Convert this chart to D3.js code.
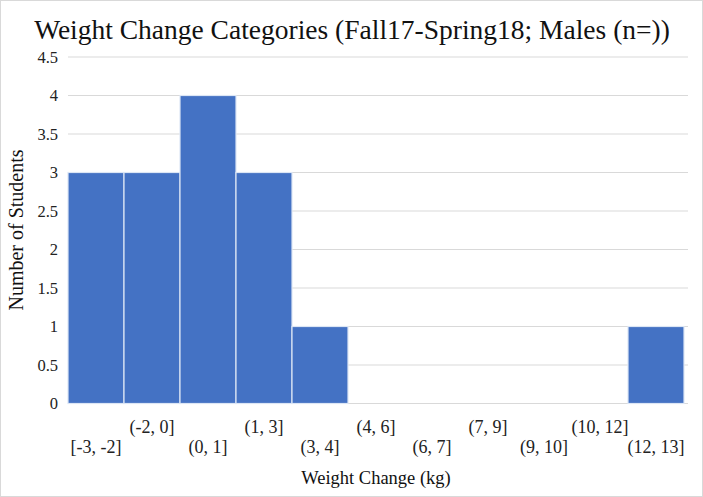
<!DOCTYPE html>
<html>
<head>
<meta charset="utf-8">
<script src="https://cdn.jsdelivr.net/npm/d3@7"></script>
<style>
  body { margin: 0; background: #fff; }
</style>
</head>
<body>
<svg id="chart" width="703" height="497"></svg>
<script>
// bins and counts
const categories = ["[-3, -2]", "(-2, 0]", "(0, 1]", "(1, 3]", "(3, 4]", "(4, 6]",
                    "(6, 7]", "(7, 9]", "(9, 10]", "(10, 12]", "(12, 13]"];
const counts = [3, 3, 4, 3, 1, 0, 0, 0, 0, 0, 1];
const yTicks = [0, 0.5, 1, 1.5, 2, 2.5, 3, 3.5, 4, 4.5];

const serif = "'Liberation Serif', 'DejaVu Serif', serif";

let svg = d3.select("#chart")
  .attr("font-family", serif);

// chart area border
svg.append("rect")
  .attr("x", 0.5).attr("y", 0.5)
  .attr("width", 702).attr("height", 496)
  .attr("fill", "none")
  .attr("stroke", "#d9d9d9");

const plotLeft = 68, plotRight = 688, plotTop = 57, plotBottom = 403.5;

let x = d3.scaleBand().domain(categories).range([plotLeft, 684]).padding(0);
let y = d3.scaleLinear().domain([0, 4.5]).range([plotBottom, plotTop]);

// gridlines
svg.append("g")
  .selectAll("line")
  .data(yTicks)
  .join("line")
  .attr("x1", plotLeft)
  .attr("x2", plotRight)
  .attr("y1", d => y(d))
  .attr("y2", d => y(d))
  .attr("stroke", "#d9d9d9")
  .attr("stroke-width", 1);

// y tick labels
svg.append("g")
  .selectAll("text")
  .data(yTicks)
  .join("text")
  .attr("x", 58)
  .attr("y", d => y(d) + 5.5)
  .attr("text-anchor", "end")
  .attr("font-family", serif)
  .attr("font-size", 16.5)
  .attr("fill", "#222")
  .text(d => d);

// bars
svg.append("g")
  .selectAll("rect")
  .data(counts)
  .join("rect")
  .attr("x", (d, i) => x(categories[i]))
  .attr("y", d => y(d))
  .attr("width", x.bandwidth())
  .attr("height", d => plotBottom - y(d))
  .attr("fill", "#4472c4")
  .attr("stroke", d => d > 0 ? "#dce6f5" : "none")
  .attr("stroke-width", 1.2);

// x labels, staggered in two rows
svg.append("g")
  .selectAll("text")
  .data(categories)
  .join("text")
  .attr("x", d => x(d) + x.bandwidth() / 2)
  .attr("y", (d, i) => i % 2 === 0 ? 453 : 433)
  .attr("text-anchor", "middle")
  .attr("font-family", serif)
  .attr("font-size", 18)
  .attr("fill", "#222")
  .text(d => d);

// title
svg.append("text")
  .attr("x", 352)
  .attr("y", 39)
  .attr("text-anchor", "middle")
  .attr("font-family", serif)
  .attr("font-size", 27.5)
  .attr("fill", "#111")
  .text("Weight Change Categories (Fall17-Spring18; Males (n=))");

// axis titles
svg.append("text")
  .attr("x", 376)
  .attr("y", 484)
  .attr("text-anchor", "middle")
  .attr("font-family", serif)
  .attr("font-size", 18.5)
  .attr("fill", "#111")
  .text("Weight Change (kg)");

svg.append("text")
  .attr("transform", "translate(23,230) rotate(-90)")
  .attr("text-anchor", "middle")
  .attr("font-family", serif)
  .attr("font-size", 20)
  .attr("fill", "#111")
  .text("Number of Students");
</script>
</body>
</html>
